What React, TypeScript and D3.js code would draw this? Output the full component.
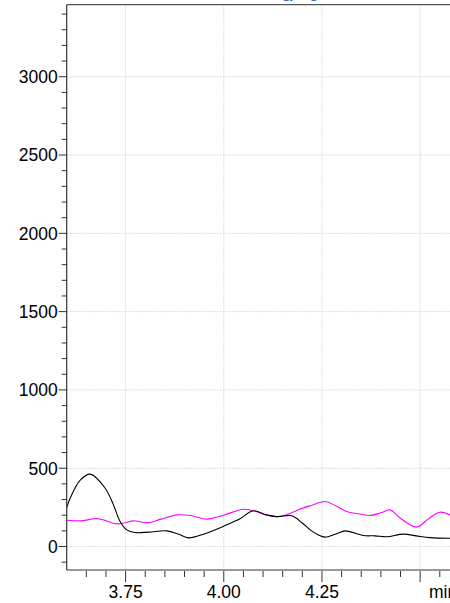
import React, { useEffect, useRef } from "react";
import * as d3 from "d3";

const blackTimes = [3.6, 3.609, 3.635, 3.66, 3.698, 3.719, 3.736, 3.753, 3.774, 3.81, 3.855, 3.885, 3.91, 3.95, 4.0, 4.04, 4.075, 4.105, 4.135, 4.173, 4.2, 4.22, 4.24, 4.258, 4.285, 4.309, 4.335, 4.355, 4.385, 4.415, 4.457, 4.49, 4.525, 4.576];
const blackValues = [249, 310, 425, 462, 372, 266, 160, 106, 89, 92, 100, 78, 55, 80, 130, 175, 228, 205, 191, 196, 150, 106, 75, 60, 80, 100, 85, 70, 68, 62, 79, 68, 57, 53];

const pinkTimes = [3.6, 3.639, 3.675, 3.7, 3.724, 3.75, 3.77, 3.806, 3.84, 3.881, 3.915, 3.957, 4.0, 4.05, 4.08, 4.11, 4.135, 4.16, 4.19, 4.22, 4.258, 4.285, 4.313, 4.345, 4.372, 4.4, 4.423, 4.45, 4.491, 4.52, 4.55, 4.576];
const pinkValues = [168, 164, 179, 165, 145, 152, 164, 151, 175, 202, 198, 175, 200, 238, 225, 200, 191, 202, 235, 260, 287, 260, 223, 208, 198, 215, 234, 180, 124, 175, 219, 202];

const yMajorTicks = [0, 500, 1000, 1500, 2000, 2500, 3000];
const xMajorTicks = [3.75, 4.0, 4.25, 4.5];
const xTickLabels = ["3.75", "4.00", "4.25", "min"];

export default function App() {
  const ref = useRef<SVGSVGElement>(null);
  useEffect(() => {
    document.body.style.margin = "0";
    const svg = d3.select(ref.current);
    svg.selectAll("*").remove();
    const left = 66.7, right = 450, top = 4.7, bottom = 570;
    const x = d3.scaleLinear().domain([3.6, 4.576]).range([left, right]);
    const y = d3.scaleLinear().domain([-150, 3460]).range([bottom, top]);
    const font = "'Liberation Sans', Arial, sans-serif";
    const fs = 17.5;

    svg.append("rect").attr("width", 450).attr("height", 603).attr("fill", "#fff");

    // title (cropped by the top edge)
    svg.append("text").attr("x", 300).attr("y", -2).attr("text-anchor", "middle")
      .attr("font-family", font).attr("font-size", 17).attr("font-weight", "bold")
      .attr("fill", "#3a6fc4").text("[pA]");

    const defs = svg.append("defs");
    defs.append("clipPath").attr("id", "plotclip").append("rect")
      .attr("x", left).attr("y", top).attr("width", right - left).attr("height", bottom - top);

    // grid
    const g = svg.append("g");
    yMajorTicks.forEach((v) => {
      g.append("line").attr("x1", left).attr("x2", right).attr("y1", y(v)).attr("y2", y(v))
        .attr("stroke", "#dcdcdc").attr("stroke-dasharray", "2,1").attr("stroke-width", 1);
    });
    xMajorTicks.forEach((v) => {
      g.append("line").attr("x1", x(v)).attr("x2", x(v)).attr("y1", top).attr("y2", bottom)
        .attr("stroke", "#dcdcdc").attr("stroke-dasharray", "2,1").attr("stroke-width", 1);
    });

    // lines
    const plot = svg.append("g").attr("clip-path", "url(#plotclip)");
    const mk = (ts: number[], vs: number[]) =>
      d3.line<number>().x((_, i) => x(ts[i])).y((d) => y(d)).curve(d3.curveCatmullRom.alpha(0.5))(vs);
    plot.append("path").attr("d", mk(pinkTimes, pinkValues)).attr("fill", "none")
      .attr("stroke", "#ff00ff").attr("stroke-width", 1.1);
    plot.append("path").attr("d", mk(blackTimes, blackValues)).attr("fill", "none")
      .attr("stroke", "#000").attr("stroke-width", 1.1);

    // axes
    const axisColor = "#333";
    svg.append("line").attr("x1", left).attr("x2", left).attr("y1", top).attr("y2", bottom)
      .attr("stroke", axisColor).attr("stroke-width", 1.2);
    svg.append("line").attr("x1", left).attr("x2", right).attr("y1", bottom).attr("y2", bottom)
      .attr("stroke", axisColor).attr("stroke-width", 1.2);
    svg.append("line").attr("x1", left).attr("x2", right).attr("y1", top).attr("y2", top)
      .attr("stroke", "#555").attr("stroke-width", 1.2);

    // y ticks
    d3.range(-100, 3401, 100).forEach((v) => {
      const major = v % 500 === 0;
      svg.append("line").attr("x1", left - (major ? 8 : 5)).attr("x2", left)
        .attr("y1", y(v)).attr("y2", y(v)).attr("stroke", axisColor).attr("stroke-width", 1);
    });
    yMajorTicks.forEach((v) => {
      svg.append("text").attr("x", left - 9).attr("y", y(v)).attr("dy", "0.36em")
        .attr("text-anchor", "end").attr("font-family", font).attr("font-size", fs)
        .attr("fill", "#000").text(String(v));
    });

    // x ticks
    d3.range(3.65, 4.576, 0.05).forEach((v) => {
      const major = xMajorTicks.some((m) => Math.abs(m - v) < 1e-6);
      svg.append("line").attr("x1", x(v)).attr("x2", x(v)).attr("y1", bottom + 1)
        .attr("y2", bottom + (major ? 12 : 7)).attr("stroke", axisColor).attr("stroke-width", 1);
    });
    xMajorTicks.forEach((v, i) => {
      const isUnit = xTickLabels[i] === "min";
      svg.append("text").attr("x", isUnit ? 429 : x(v)).attr("y", 597.5)
        .attr("text-anchor", isUnit ? "start" : "middle").attr("font-family", font)
        .attr("font-size", fs).attr("fill", "#000").text(xTickLabels[i]);
    });
  }, []);
  return <svg ref={ref} width={450} height={603} style={{ position: "fixed", left: 0, top: 0 }} />;
}
